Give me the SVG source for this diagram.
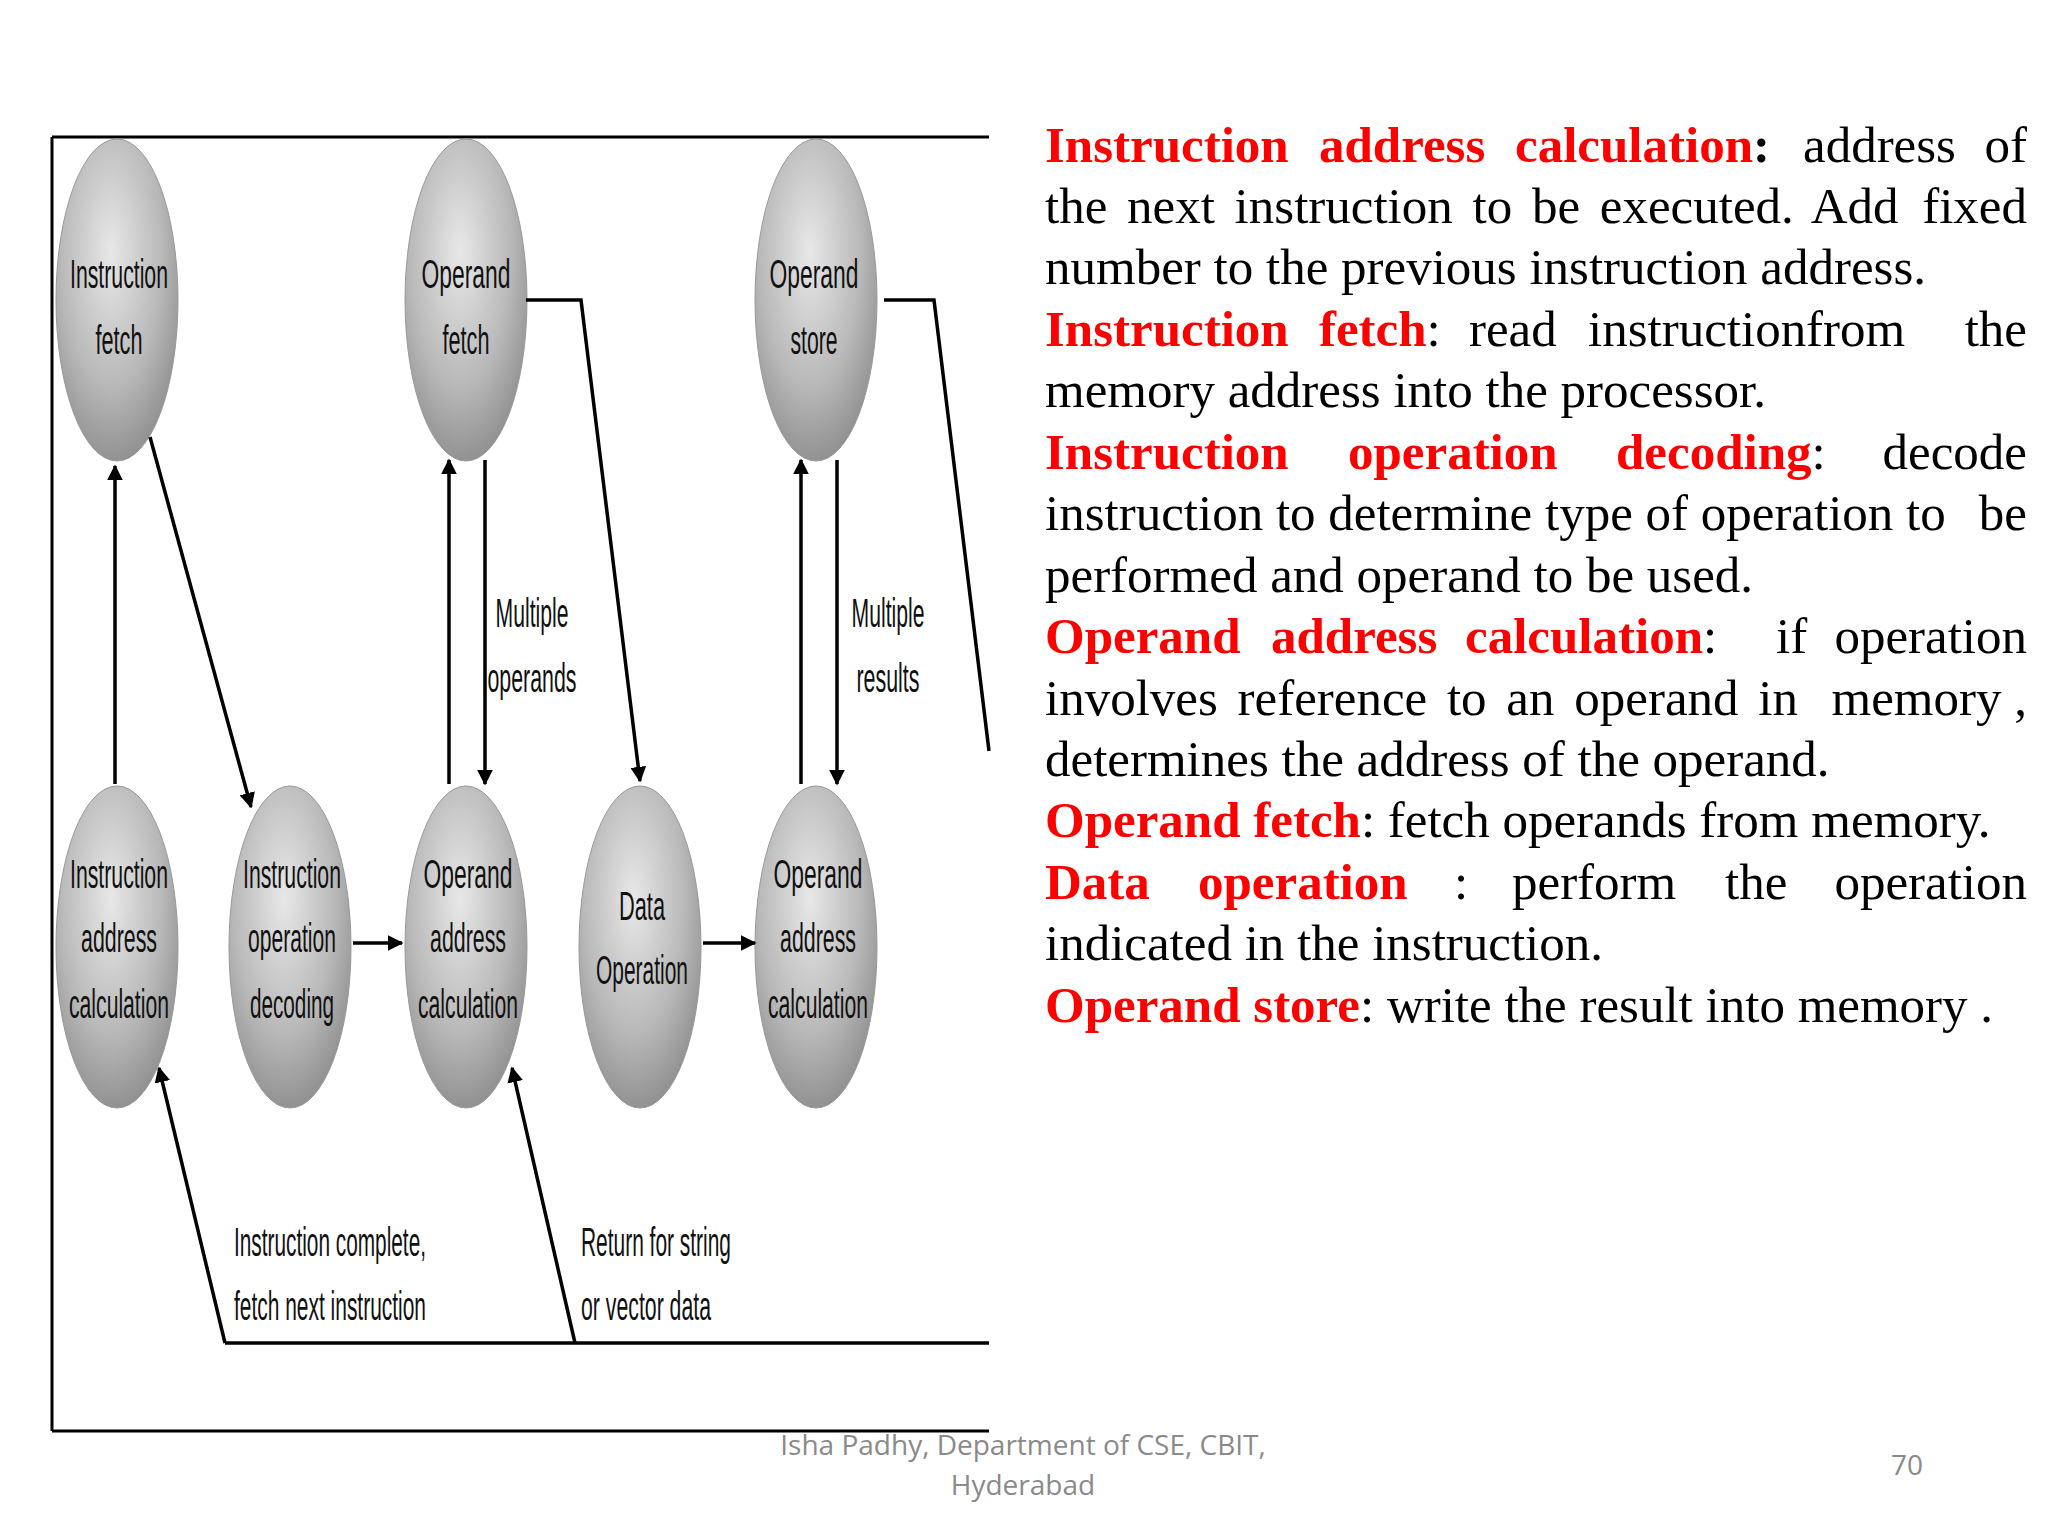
<svg xmlns="http://www.w3.org/2000/svg" width="2048" height="1536" viewBox="0 0 2048 1536">
<defs>
<radialGradient id="g" cx="0.45" cy="0.35" r="0.7">
<stop offset="0" stop-color="#e8e8e8"/><stop offset="0.6" stop-color="#b8b8b8"/><stop offset="1" stop-color="#8a8a8a"/>
</radialGradient>
<marker id="a" viewBox="0 0 10 10" refX="9" refY="5" markerWidth="4.5" markerHeight="4.5" orient="auto"><path d="M0,0L10,5L0,10z" fill="#000"/></marker>
</defs>
<style>
.n{fill:url(#g);stroke:#999;stroke-width:1}
.l{font-family:"Liberation Sans",Arial,sans-serif;font-size:40px;text-anchor:middle;fill:#111}
.c{stroke:#000;stroke-width:3.5;fill:none}
.t{font-family:"Liberation Serif","Times New Roman",serif;font-size:51px;fill:#000}
.e{text-anchor:end}
.r{fill:#ff0000;font-weight:bold}
.f{font-family:"Open Sans",sans-serif;font-size:28px;fill:#8a8a8a;text-anchor:middle}
</style>
<rect width="2048" height="1536" fill="#fff"/>
<g id="frame" stroke="#000" stroke-width="3"><line x1="52" y1="137" x2="989" y2="137"/><line x1="52" y1="137" x2="52" y2="1431"/><line x1="52" y1="1431" x2="989" y2="1431"/></g>
<g id="n1"><ellipse class="n" cx="117" cy="300" rx="61" ry="161"/><text class="l" x="119" y="288" textLength="98" lengthAdjust="spacingAndGlyphs">Instruction</text><text class="l" x="119" y="354" textLength="47" lengthAdjust="spacingAndGlyphs">fetch</text></g>
<g id="n2"><ellipse class="n" cx="466" cy="300" rx="61" ry="161"/><text class="l" x="466" y="288" textLength="89" lengthAdjust="spacingAndGlyphs">Operand</text><text class="l" x="466" y="354" textLength="47" lengthAdjust="spacingAndGlyphs">fetch</text></g>
<g id="n3"><ellipse class="n" cx="816" cy="300" rx="61" ry="161"/><text class="l" x="814" y="288" textLength="89" lengthAdjust="spacingAndGlyphs">Operand</text><text class="l" x="814" y="354" textLength="47" lengthAdjust="spacingAndGlyphs">store</text></g>
<g id="n4"><ellipse class="n" cx="117" cy="947" rx="61" ry="161"/><text class="l" x="119" y="888" textLength="98" lengthAdjust="spacingAndGlyphs">Instruction</text><text class="l" x="119" y="952" textLength="76" lengthAdjust="spacingAndGlyphs">address</text><text class="l" x="119" y="1018" textLength="100" lengthAdjust="spacingAndGlyphs">calculation</text></g>
<g id="n5"><ellipse class="n" cx="290" cy="947" rx="61" ry="161"/><text class="l" x="292" y="888" textLength="98" lengthAdjust="spacingAndGlyphs">Instruction</text><text class="l" x="292" y="952" textLength="88" lengthAdjust="spacingAndGlyphs">operation</text><text class="l" x="292" y="1018" textLength="84" lengthAdjust="spacingAndGlyphs">decoding</text></g>
<g id="n6"><ellipse class="n" cx="466" cy="947" rx="61" ry="161"/><text class="l" x="468" y="888" textLength="89" lengthAdjust="spacingAndGlyphs">Operand</text><text class="l" x="468" y="952" textLength="76" lengthAdjust="spacingAndGlyphs">address</text><text class="l" x="468" y="1018" textLength="100" lengthAdjust="spacingAndGlyphs">calculation</text></g>
<g id="n7"><ellipse class="n" cx="640" cy="947" rx="61" ry="161"/><text class="l" x="642" y="920" textLength="46" lengthAdjust="spacingAndGlyphs">Data</text><text class="l" x="642" y="984" textLength="92" lengthAdjust="spacingAndGlyphs">Operation</text></g>
<g id="n8"><ellipse class="n" cx="816" cy="947" rx="61" ry="161"/><text class="l" x="818" y="888" textLength="89" lengthAdjust="spacingAndGlyphs">Operand</text><text class="l" x="818" y="952" textLength="76" lengthAdjust="spacingAndGlyphs">address</text><text class="l" x="818" y="1018" textLength="100" lengthAdjust="spacingAndGlyphs">calculation</text></g>
<g id="connectors">
<line class="c" x1="115" y1="784" x2="115" y2="466" marker-end="url(#a)"/>
<line class="c" x1="150" y1="437" x2="251" y2="807" marker-end="url(#a)"/>
<line class="c" x1="353" y1="943" x2="402" y2="943" stroke-width="6" marker-end="url(#a)"/>
<line class="c" x1="449" y1="784" x2="449" y2="460" marker-end="url(#a)"/>
<line class="c" x1="485" y1="460" x2="485" y2="784" marker-end="url(#a)"/>
<polyline class="c" points="526,300 581,300 640,781" marker-end="url(#a)"/>
<line class="c" x1="703" y1="943" x2="755" y2="943" stroke-width="6" marker-end="url(#a)"/>
<line class="c" x1="801" y1="784" x2="801" y2="460" marker-end="url(#a)"/>
<line class="c" x1="837" y1="460" x2="837" y2="784" marker-end="url(#a)"/>
<polyline class="c" points="884,300 934,300 989,751"/>
<line class="c" x1="225" y1="1343" x2="989" y2="1343" stroke-width="6"/>
<line class="c" x1="225" y1="1343" x2="159" y2="1068" marker-end="url(#a)"/>
<line class="c" x1="575" y1="1343" x2="512" y2="1068" marker-end="url(#a)"/>
<text class="l" x="532" y="627" textLength="73" lengthAdjust="spacingAndGlyphs">Multiple</text><text class="l" x="532" y="692" textLength="89" lengthAdjust="spacingAndGlyphs">operands</text>
<text class="l" x="888" y="627" textLength="73" lengthAdjust="spacingAndGlyphs">Multiple</text><text class="l" x="888" y="692" textLength="63" lengthAdjust="spacingAndGlyphs">results</text>
<text class="l" x="330" y="1256" textLength="192" lengthAdjust="spacingAndGlyphs">Instruction complete,</text><text class="l" x="330" y="1320" textLength="192" lengthAdjust="spacingAndGlyphs">fetch next instruction</text>
<text class="l" x="656" y="1256" textLength="150" lengthAdjust="spacingAndGlyphs">Return for string</text><text class="l" x="646" y="1320" textLength="130" lengthAdjust="spacingAndGlyphs">or vector data</text>
</g>
<g id="desc">
<text class="t" x="1045" y="162"><tspan class="r">Instruction</tspan></text><text class="t" x="1319" y="162"><tspan class="r">address</tspan></text><text class="t" x="1515" y="162"><tspan class="r">calculation</tspan><tspan font-weight="bold">:</tspan></text><text class="t" x="1803" y="162">address</text><text class="t e" x="2027" y="162">of</text>
<text class="t" x="1045" y="223" word-spacing="7">the next instruction to be executed. Add</text><text class="t e" x="2027" y="223">fixed</text>
<text class="t" x="1045" y="284">number to the previous instruction address.</text>
<text class="t" x="1045" y="346"><tspan class="r">Instruction</tspan></text><text class="t" x="1319" y="346"><tspan class="r">fetch</tspan>:</text><text class="t" x="1469" y="346">read</text><text class="t" x="1588" y="346">instruction</text><text class="t" x="1806" y="346">from</text><text class="t e" x="2027" y="346">the</text>
<text class="t" x="1045" y="407">memory address into the processor.</text>
<text class="t" x="1045" y="469"><tspan class="r">Instruction</tspan></text><text class="t" x="1348" y="469"><tspan class="r">operation</tspan></text><text class="t" x="1616" y="469"><tspan class="r">decoding</tspan>:</text><text class="t e" x="2027" y="469">decode</text>
<text class="t" x="1045" y="530">instruction to determine type of operation to</text><text class="t e" x="2027" y="530">be</text>
<text class="t" x="1045" y="592">performed and operand to be used.</text>
<text class="t" x="1045" y="653"><tspan class="r">Operand</tspan></text><text class="t" x="1271" y="653"><tspan class="r">address</tspan></text><text class="t" x="1465" y="653"><tspan class="r">calculation</tspan>:</text><text class="t" x="1776" y="653">if</text><text class="t e" x="2027" y="653">operation</text>
<text class="t" x="1045" y="715" word-spacing="7">involves reference to an operand in</text><text class="t e" x="2027" y="715">memory ,</text>
<text class="t" x="1045" y="776">determines the address of the operand.</text>
<text class="t" x="1045" y="837"><tspan class="r">Operand fetch</tspan>: fetch operands from memory.</text>
<text class="t" x="1045" y="899"><tspan class="r">Data</tspan></text><text class="t" x="1198" y="899"><tspan class="r">operation</tspan></text><text class="t" x="1454" y="899">:</text><text class="t" x="1512" y="899">perform</text><text class="t" x="1725" y="899">the</text><text class="t e" x="2027" y="899">operation</text>
<text class="t" x="1045" y="960">indicated in the instruction.</text>
<text class="t" x="1045" y="1022"><tspan class="r">Operand store</tspan>: write the result into memory .</text>
</g>
<g id="footer">
<text class="f" x="1023" y="1455">Isha Padhy, Department of CSE, CBIT,</text>
<text class="f" x="1023" y="1495">Hyderabad</text>
<text class="f" x="1907" y="1475">70</text>
</g>
</svg>
